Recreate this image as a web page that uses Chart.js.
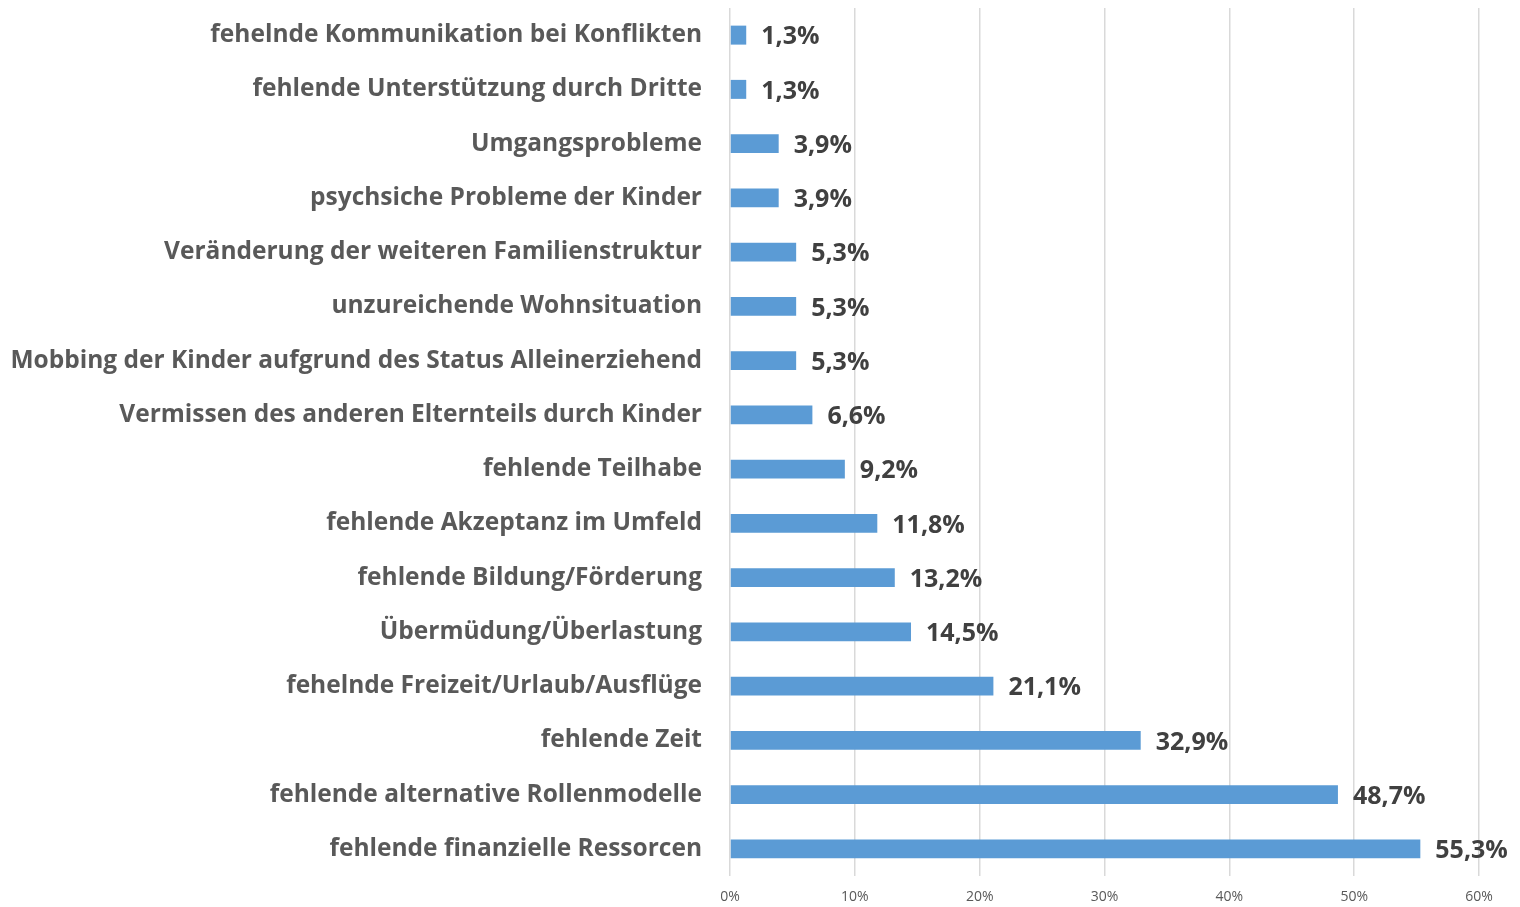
<!DOCTYPE html>
<html>
<head>
<meta charset="utf-8">
<script src="https://cdn.jsdelivr.net/npm/chart.js@4/dist/chart.umd.min.js"></script>
<style>
html,body{margin:0;padding:0;background:#fff;}
#wrap{width:1520px;height:907px;position:relative;}
</style>
</head>
<body>
<div id="wrap"><canvas id="c" width="1520" height="907"></canvas></div>
<script>
const categories = [
  "fehelnde Kommunikation bei Konflikten",
  "fehlende Unterstützung durch Dritte",
  "Umgangsprobleme",
  "psychsiche Probleme der Kinder",
  "Veränderung der weiteren Familienstruktur",
  "unzureichende Wohnsituation",
  "Mobbing der Kinder aufgrund des Status Alleinerziehend",
  "Vermissen des anderen Elternteils durch Kinder",
  "fehlende Teilhabe",
  "fehlende Akzeptanz im Umfeld",
  "fehlende Bildung/Förderung",
  "Übermüdung/Überlastung",
  "fehelnde Freizeit/Urlaub/Ausflüge",
  "fehlende Zeit",
  "fehlende alternative Rollenmodelle",
  "fehlende finanzielle Ressorcen"
];
const values = [1.3, 1.3, 3.9, 3.9, 5.3, 5.3, 5.3, 6.6, 9.2, 11.8, 13.2, 14.5, 21.1, 32.9, 48.7, 55.3];
const tickValues = [0, 10, 20, 30, 40, 50, 60];

const FONT = "'Open Sans'";

const labelPlugin = {
  id: 'valueLabels',
  afterDatasetsDraw(chart) {
    const ctx = chart.ctx;
    const meta = chart.getDatasetMeta(0);
    ctx.save();
    ctx.font = "bold 25px " + FONT;
    ctx.fillStyle = "#404040";
    ctx.textAlign = "left";
    ctx.textBaseline = "middle";
    meta.data.forEach((bar, i) => {
      const txt = values[i].toFixed(1).replace('.', ',') + '%';
      ctx.fillText(txt, bar.x + 15, bar.y + 2);
    });
    ctx.restore();
  }
};

new Chart(document.getElementById('c'), {
  type: 'bar',
  data: {
    labels: categories,
    datasets: [{
      data: values,
      backgroundColor: '#5B9BD5',
      borderWidth: 0,
      barPercentage: 0.7,
      categoryPercentage: 0.5
    }]
  },
  options: {
    indexAxis: 'y',
    responsive: false,
    animation: false,
    layout: { padding: { left: 8, right: 41, top: 8, bottom: 2 } },
    plugins: { legend: { display: false }, tooltip: { enabled: false } },
    scales: {
      x: {
        min: 0, max: 60,
        afterBuildTicks(scale) { scale.ticks = tickValues.map(v => ({ value: v })); },
        afterFit(scale) { scale.paddingLeft = 0; scale.paddingRight = 0; scale.height = 29; },
        grid: { color: '#D9D9D9', lineWidth: 1.5, drawTicks: false },
        border: { display: false },
        ticks: {
          padding: 13,
          color: '#595959',
          font: { family: FONT, size: 14 },
          callback: v => v + '%'
        }
      },
      y: {
        grid: { display: false, drawTicks: false },
        border: { display: false },
        afterFit(scale) { scale.width = 730 - 8; scale.paddingTop = 0; scale.paddingBottom = 0; },
        ticks: {
          padding: 28,
          color: '#595959',
          font: { family: FONT, size: 24.5, weight: 'bold' }
        }
      }
    }
  },
  plugins: [labelPlugin]
});
</script>
</body>
</html>
